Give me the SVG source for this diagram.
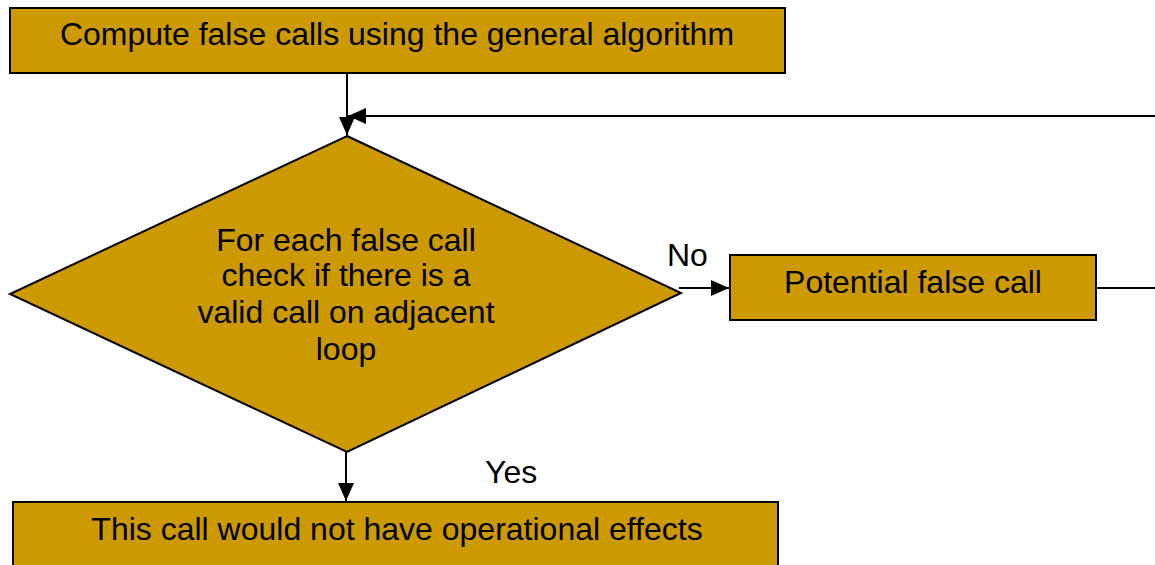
<svg xmlns="http://www.w3.org/2000/svg" width="1155" height="565" viewBox="0 0 1155 565">
<style>
.box{fill:#CC9900;stroke:#000;stroke-width:2}
.t{font-family:"Liberation Sans",Arial,sans-serif;font-size:32px;fill:#000;text-anchor:middle}
.l{font-family:"Liberation Sans",Arial,sans-serif;font-size:32px;fill:#000}
.c{stroke:#000;stroke-width:2;fill:none}
</style>
<defs>
<marker id="arr" markerWidth="18" markerHeight="16" refX="18" refY="8" orient="auto" markerUnits="userSpaceOnUse">
<path d="M0,0 L18,8 L0,16 Z" fill="#000"/>
</marker>
</defs>
<rect width="1155" height="565" fill="#fff"/>
<g id="connectors">
<line class="c" x1="347" y1="69" x2="347" y2="135" marker-end="url(#arr)"/>
<line class="c" x1="1155" y1="116" x2="348" y2="116" marker-end="url(#arr)"/>
<line class="c" x1="679" y1="288" x2="729" y2="288" marker-end="url(#arr)"/>
<line class="c" x1="1096" y1="288" x2="1155" y2="288"/>
<line class="c" x1="346" y1="452" x2="346" y2="501" marker-end="url(#arr)"/>
<text class="l" x="667" y="266">No</text>
<text class="l" x="485" y="483">Yes</text>
</g>
<g id="start">
<rect class="box" x="10" y="8" width="775" height="65"/>
<text class="t" x="397" y="45">Compute false calls using the general algorithm</text>
</g>
<g id="decision">
<polygon class="box" points="347,136 681,293 347,452 10,294"/>
<text class="t" x="346" y="251">For each false call</text>
<text class="t" x="346" y="286">check if there is a</text>
<text class="t" x="346" y="323">valid call on adjacent</text>
<text class="t" x="346" y="360">loop</text>
</g>
<g id="potential">
<rect class="box" x="730" y="255" width="366" height="65"/>
<text class="t" x="913" y="293">Potential false call</text>
</g>
<g id="noeffect">
<rect class="box" x="13" y="502" width="765" height="70"/>
<text class="t" x="397" y="540">This call would not have operational effects</text>
</g>
</svg>
